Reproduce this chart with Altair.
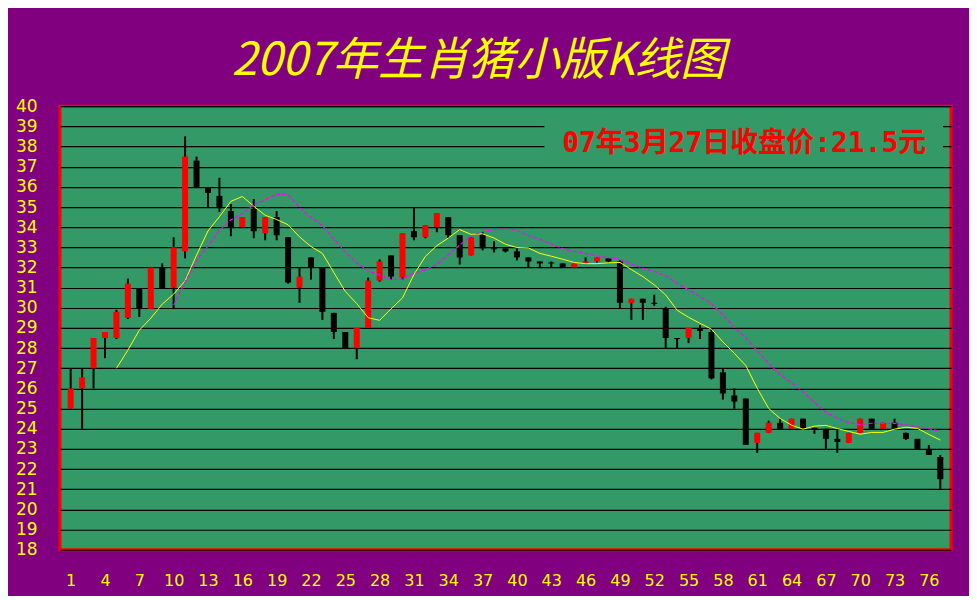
import altair as alt
import pandas as pd

day = list(range(1, 78))
open_ = [25, 26, 27, 28.5, 28.5, 29.5, 30.95, 29.95, 32, 31,
         32.8, 37.3, 35.95, 35.55, 34.8, 34, 34.9, 33.7, 34.5, 33.5,
         31, 32.5, 32, 29.75, 28.8, 28, 29, 31.35, 32.6, 31.5,
         33.8, 33.5, 34, 34.5, 33.6, 32.6, 33.65, 32.95, 32.95, 32.8,
         32.5, 32.3, 32.25, 32.2, 32, 32.2, 32.3, 32.45, 32.3, 30.25,
         30.45, 30.25, 29.95, 28.5, 28.5, 28.95, 28.8, 26.8, 25.65, 25.5,
         23.3, 23.8, 24.3, 24, 24.5, 24.05, 24, 23.5, 23.3, 23.8,
         24.5, 24, 24.3, 23.8, 23.5, 23, 22.6]
high = [27, 27, 28.5, 28.8, 29.9, 31.45, 30.95, 32, 32.2, 33.5,
        38.5, 37.5, 35.95, 36.45, 35.15, 34.5, 35.4, 34.5, 34.8, 33.5,
        32, 32.5, 32, 29.75, 28.8, 29, 31.5, 32.4, 32.6, 33.7,
        35, 34.1, 34.7, 34.5, 33.6, 33.5, 33.75, 33.3, 32.95, 32.95,
        32.5, 32.3, 32.3, 32.2, 32.2, 32.5, 32.5, 32.45, 32.35, 30.45,
        30.45, 30.65, 30.05, 28.5, 29, 29.15, 28.95, 27, 26, 25.5,
        23.8, 24.4, 24.5, 24.5, 24.5, 24.05, 24, 24, 23.8, 24.5,
        24.5, 24.3, 24.5, 23.8, 23.5, 23.2, 22.7]
low = [25, 24, 26, 27.5, 28.45, 29.45, 29.55, 29.95, 30.95, 29.95,
       32.45, 35.95, 34.95, 34.75, 33.55, 34, 33.45, 33.35, 33.35, 31.2,
       30.25, 31.4, 29.4, 28.45, 28, 27.45, 29, 31.3, 31.4, 31.4,
       33.35, 33.45, 33.75, 33.45, 32.15, 32.6, 32.85, 32.75, 32.75, 32.35,
       32, 32, 32, 32, 32, 32.2, 32.25, 32.25, 29.95, 29.4,
       29.4, 30.1, 28, 28, 28.25, 28.45, 26.45, 25.45, 25, 23.2,
       22.8, 23.8, 24, 24, 24, 23.75, 23, 22.8, 23.3, 23.8,
       24, 24, 24, 23.45, 23, 22.7, 21]
close = [26, 26.55, 28.5, 28.8, 29.8, 31.2, 29.95, 32, 30.95, 33,
         37.5, 35.95, 35.7, 34.95, 34, 34.5, 33.8, 34.5, 33.6, 31.25,
         31.55, 32, 29.8, 28.8, 28, 29, 31.35, 32.3, 31.55, 33.7,
         33.5, 34.1, 34.7, 33.6, 32.5, 33.5, 32.95, 32.9, 32.8, 32.5,
         32.3, 32.2, 32.2, 32, 32.2, 32.3, 32.5, 32.3, 30.25, 30.45,
         30.25, 30.2, 28.5, 28.45, 29, 28.85, 26.5, 25.75, 25.35, 23.2,
         23.8, 24.3, 24, 24.5, 24, 23.95, 23.5, 23.35, 23.8, 24.5,
         24, 24.3, 24, 23.5, 23, 22.7, 21.5]

x_ticks = list(range(1, 77, 3))
y_ticks = list(range(18, 41))
title_text = "2007年生肖猪小版K线图"
note_text = ["07年3月27日收盘价:21.5元"]

df = pd.DataFrame({"day": day, "open": open_, "high": high, "low": low, "close": close})

YELLOW = "#FFFF00"
GREEN = "#339966"
PURPLE = "#800080"

x_scale = alt.Scale(domain=[0.5, 77.5], nice=False, zero=False)
x_axis = alt.Axis(values=x_ticks, labelColor=YELLOW, labelFontSize=16,
                  labelFont="DejaVu Sans", grid=False, domain=False, ticks=False,
                  tickSize=0, labelPadding=23, labelFlush=False,
                  labelOverlap=False, title=None)
y_scale = alt.Scale(domain=[18, 40], nice=False, zero=False)
y_axis = alt.Axis(values=y_ticks, labelColor=YELLOW, labelFontSize=17,
                  labelFont="DejaVu Sans", grid=True, gridColor="#000000",
                  gridWidth=1.2, gridOpacity=1, domain=False, ticks=False,
                  tickSize=0, labelPadding=23, labelOverlap=False,
                  labelFlush=False, title=None)


def X(field):
    return alt.X(field, scale=x_scale, axis=x_axis)


def Y(field):
    return alt.Y(field, scale=y_scale, axis=y_axis)


base = alt.Chart(df)

wicks = base.mark_rule(color="#000000", strokeWidth=2).encode(
    x=X("day:Q"), y=Y("low:Q"), y2="high:Q",
)

bodies = base.mark_bar(size=6).encode(
    x=X("day:Q"), y=Y("open:Q"), y2="close:Q",
    color=alt.condition("datum.close >= datum.open", alt.value("#FF0000"), alt.value("#000000")),
)

ma5 = base.transform_window(
    ma="mean(open)", n="count()", frame=[-4, 0], sort=[alt.SortField("day")]
).transform_filter("datum.n == 5").mark_line(color=YELLOW, strokeWidth=1).encode(
    x=X("day:Q"), y=Y("ma:Q")
)

ma10 = base.transform_window(
    ma="mean(high)", n="count()", frame=[-9, 0], sort=[alt.SortField("day")]
).transform_filter("datum.n == 10").mark_line(
    color="#FF00FF", strokeWidth=1.2, strokeDash=[4, 2]
).encode(x=X("day:Q"), y=Y("ma:Q"))

note_df = pd.DataFrame({"note": note_text})
note_bg = alt.Chart(note_df).mark_rect(color=GREEN).encode(
    x=alt.value(485), x2=alt.value(884), y=alt.value(9), y2=alt.value(54)
)
note = alt.Chart(note_df).mark_text(
    color="#FF0000", fontSize=28, fontWeight="bold",
    font="DejaVu Sans Mono, Noto Sans CJK SC", align="center", baseline="middle"
).encode(x=alt.value(685), y=alt.value(38), text="note:N")

chart = alt.layer(note_bg, wicks, bodies, ma5, ma10, note).properties(
    width=892,
    height=444,
    autosize=alt.AutoSizeParams(type="none"),
    padding={"left": 52, "top": 98, "right": 18, "bottom": 46},
    background=PURPLE,
    title=alt.TitleParams(
        text=title_text, color=YELLOW, fontSize=45.5, fontStyle="italic",
        fontWeight="normal", font="Noto Sans CJK SC", anchor="middle",
        offset=13, dx=-27,
    ),
).configure_view(fill=GREEN, stroke="#FF0000", strokeWidth=3)

chart.save("out.html", embed_options={"renderer": "svg", "actions": False})
